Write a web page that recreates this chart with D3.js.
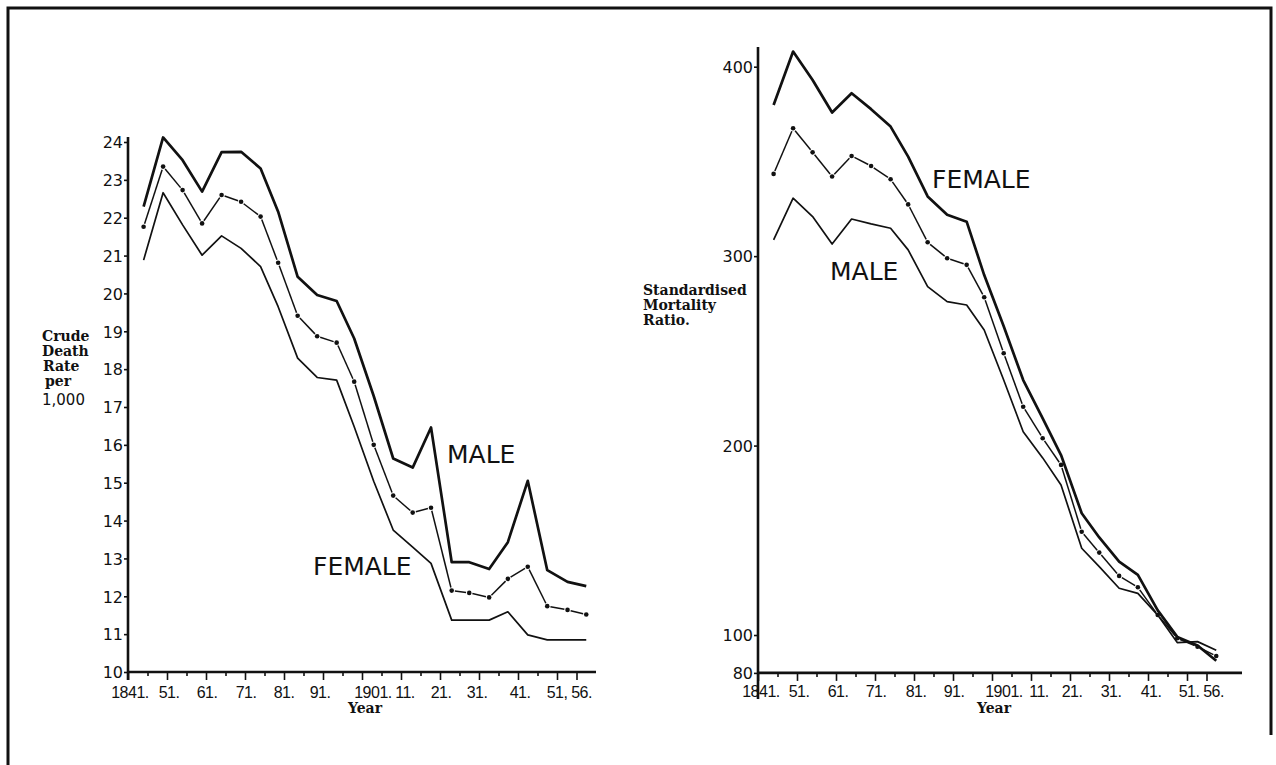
<!DOCTYPE html>
<html><head><meta charset="utf-8">
<script src="https://cdn.jsdelivr.net/npm/d3@7"></script>
<style>body{margin:0;background:#fff} svg{display:block}</style>
</head><body>
<svg id="c" width="1276" height="765"></svg>
<script>
// ---- data ----
const years = [1845, 1850, 1855, 1860, 1865, 1870, 1875, 1879.5, 1884.5, 1889.5, 1894.5, 1899,
               1904, 1909, 1914, 1918.7, 1924, 1928.5, 1933.6, 1938.4, 1943.5, 1948.5, 1953.7, 1958.5];

// Crude death rate per 1,000 (left panel)
const crudeMale    = [22.29, 24.12, 23.52, 22.69, 23.73, 23.74, 23.30, 22.16, 20.44, 19.96, 19.80, 18.81,
                      17.29, 15.64, 15.40, 16.46, 12.90, 12.90, 12.72, 13.43, 15.05, 12.69, 12.38, 12.27];
const crudePersons = [21.76, 23.35, 22.73, 21.85, 22.60, 22.42, 22.03, 20.81, 19.41, 18.87, 18.70, 17.67,
                      16.00, 14.66, 14.21, 14.34, 12.15, 12.09, 11.97, 12.46, 12.78, 11.74, 11.64, 11.52];
const crudeFemale  = [20.88, 22.66, 21.81, 21.01, 21.52, 21.19, 20.71, 19.65, 18.29, 17.78, 17.71, 16.48,
                      15.04, 13.75, 13.30, 12.87, 11.37, 11.37, 11.37, 11.59, 10.98, 10.85, 10.85, 10.85];

// Standardised mortality ratio (right panel)
const smrFemale  = [379.8, 408.0, 393.0, 375.8, 386.0, 377.6, 368.4, 352.5, 331.5, 321.8, 318.2, 290.0,
                    263.0, 234.6, 214.4, 195.0, 164.3, 151.5, 138.7, 131.7, 113.0, 99.0, 94.5, 86.4];
const smrPersons = [343.4, 367.5, 354.8, 342.0, 352.9, 347.6, 340.6, 327.3, 307.3, 298.9, 295.4, 278.3,
                    248.7, 220.5, 203.9, 189.8, 154.5, 143.5, 131.2, 125.2, 110.6, 98.3, 93.8, 88.9];
const smrMale    = [308.6, 330.6, 320.9, 306.4, 319.6, 317.0, 314.7, 303.3, 283.9, 276.0, 274.2, 261.0,
                    234.6, 207.3, 193.5, 179.2, 145.8, 136.1, 124.7, 122.0, 110.5, 96.0, 96.5, 92.0];

const yearTicks       = [1841, 1851, 1861, 1871, 1881, 1891, 1901, 1911, 1921, 1931, 1941, 1951, 1956];
const leftYearLabels  = ["1841.", "51.", "61.", "71.", "81.", "91.", "1901.", "11.", "21.", "31.", "41.", "51,", "56."];
const rightYearLabels = ["1841.", "51.", "61.", "71.", "81.", "91.", "1901.", "11.", "21.", "31.", "41.", "51.", "56."];
const minorYearTicks  = [1846, 1856, 1866, 1876, 1886, 1896, 1906, 1916, 1926, 1936, 1946];
const crudeTicks = [10, 11, 12, 13, 14, 15, 16, 17, 18, 19, 20, 21, 22, 23, 24];
const smrTicks   = [80, 100, 200, 300, 400];

// ---- drawing ----
const svg = d3.select("#c");
const ink = "#111";

// frame
svg.append("path").attr("d", "M8,765 L8,8 L1271,8 L1271,735")
  .attr("fill", "none").attr("stroke", ink).attr("stroke-width", 3);

function panel(cfg) {
  const g = svg.append("g");
  const x = d3.scaleLinear().domain([1841, 1951]).range(cfg.xr);
  const y = d3.scaleLinear().domain(cfg.yd).range(cfg.yr);
  const x0 = x(1841), yb = y(cfg.yd[0]);

  // y axis ticks + labels
  const ya = d3.axisLeft(y).tickValues(cfg.yTicks).tickSize(4).tickPadding(1)
    .tickFormat(cfg.yFmt);
  const gy = g.append("g").attr("transform", `translate(${x0},0)`).call(ya);
  gy.select(".domain").remove();
  gy.selectAll("line").attr("stroke", ink).attr("stroke-width", 1.6);
  gy.selectAll("text").attr("font-family", "DejaVu Sans").attr("font-size", 16)
    .attr("fill", ink).attr("dy", "0.36em");

  // x axis ticks
  const gx = g.append("g").attr("transform", `translate(0,${yb})`);
  gx.call(d3.axisBottom(x).tickValues(minorYearTicks).tickSize(4).tickFormat(""))
    .select(".domain").remove();
  const gx2 = g.append("g").attr("transform", `translate(0,${yb})`);
  gx2.call(d3.axisBottom(x).tickValues(yearTicks).tickSize(8).tickFormat(""))
    .select(".domain").remove();
  g.selectAll(".tick line").attr("stroke", ink).attr("stroke-width", 1.6);

  // axis lines
  g.append("line").attr("x1", x0).attr("x2", x0).attr("y1", cfg.yTop).attr("y2", yb + cfg.yDrop)
    .attr("stroke", ink).attr("stroke-width", 2.6);
  g.append("line").attr("x1", x0).attr("x2", cfg.xEnd).attr("y1", yb).attr("y2", yb)
    .attr("stroke", ink).attr("stroke-width", 2.6);

  // x labels
  g.selectAll("text.xl").data(yearTicks).join("text").attr("class", "xl")
    .attr("x", (d, i) => x(d) + cfg.xOff[i]).attr("y", cfg.xLabY)
    .attr("text-anchor", "middle").attr("font-family", "Liberation Sans").attr("font-size", 16)
    .attr("letter-spacing", -0.5)
    .attr("fill", ink).text((d, i) => cfg.xLabels[i]);

  // lines
  const line = d3.line().x(d => x(d[0])).y(d => y(d[1]));
  const pts = arr => years.map((yr, i) => [yr, arr[i]]);
  g.append("path").attr("d", line(pts(cfg.bold))).attr("fill", "none")
    .attr("stroke", ink).attr("stroke-width", 2.7).attr("stroke-linejoin", "round");
  g.append("path").attr("d", line(pts(cfg.thin))).attr("fill", "none")
    .attr("stroke", ink).attr("stroke-width", 1.7).attr("stroke-linejoin", "round");

  // dot-dash persons line: shortened segments between dots
  const pp = pts(cfg.dots).map(d => [x(d[0]), y(d[1])]);
  const gap = 3.2;
  for (let i = 0; i < pp.length - 1; i++) {
    const [ax, ay] = pp[i], [bx, by] = pp[i + 1];
    const L = Math.hypot(bx - ax, by - ay), ux = (bx - ax) / L, uy = (by - ay) / L;
    g.append("line").attr("x1", ax + ux * gap).attr("y1", ay + uy * gap)
      .attr("x2", bx - ux * gap).attr("y2", by - uy * gap)
      .attr("stroke", ink).attr("stroke-width", 1.5);
  }
  g.selectAll("circle").data(pp).join("circle")
    .attr("cx", d => d[0]).attr("cy", d => d[1]).attr("r", 2.3).attr("fill", ink);

  // series labels
  cfg.labels.forEach(l => g.append("text").attr("x", l[1]).attr("y", l[2])
    .attr("font-family", "DejaVu Sans").attr("font-size", 25).attr("fill", ink).text(l[0]));

  // axis titles
  cfg.titles.forEach(t => g.append("text").attr("x", t[1]).attr("y", t[2])
    .attr("font-family", t[3] || "DejaVu Serif").attr("font-weight", t[4] || "bold")
    .attr("font-size", t[5] || 14).attr("text-anchor", t[6] || "start")
    .attr("fill", ink).text(t[0]));
}

panel({
  xr: [128, 557], yd: [10, 24], yr: [672, 142], yTop: 137, yDrop: 8, xEnd: 596,
  yTicks: crudeTicks, yFmt: d => d,
  xLabels: leftYearLabels, xOff: [2, 2, 1, 1, 0, -3, 11, 4, 1, -2, 2, 0, 5], xLabY: 698,
  bold: crudeMale, thin: crudeFemale, dots: crudePersons,
  labels: [["MALE", 447, 463], ["FEMALE", 313, 575]],
  titles: [["Crude", 42, 341], ["Death", 42, 356], ["Rate", 43, 371], ["per", 45, 386],
           ["1,000", 42, 405, "DejaVu Sans", "normal", 15], ["Year", 365, 713, null, null, 14, "middle"]]
});

panel({
  xr: [758, 1187], yd: [80, 400], yr: [672.9, 66.7], yTop: 47, yDrop: 26, xEnd: 1242,
  yTicks: smrTicks, yFmt: d => d,
  xLabels: rightYearLabels, xOff: [3, 2, 2, 1, 2, 1, 12, 8, 2, 2, 3, 2, 7], xLabY: 697,
  bold: smrFemale, thin: smrMale, dots: smrPersons,
  labels: [["FEMALE", 932, 188], ["MALE", 830, 280]],
  titles: [["Standardised", 643, 295], ["Mortality", 643, 310], ["Ratio.", 643, 325],
           ["Year", 994, 713, null, null, 14, "middle"]]
});
</script>
</body></html>
